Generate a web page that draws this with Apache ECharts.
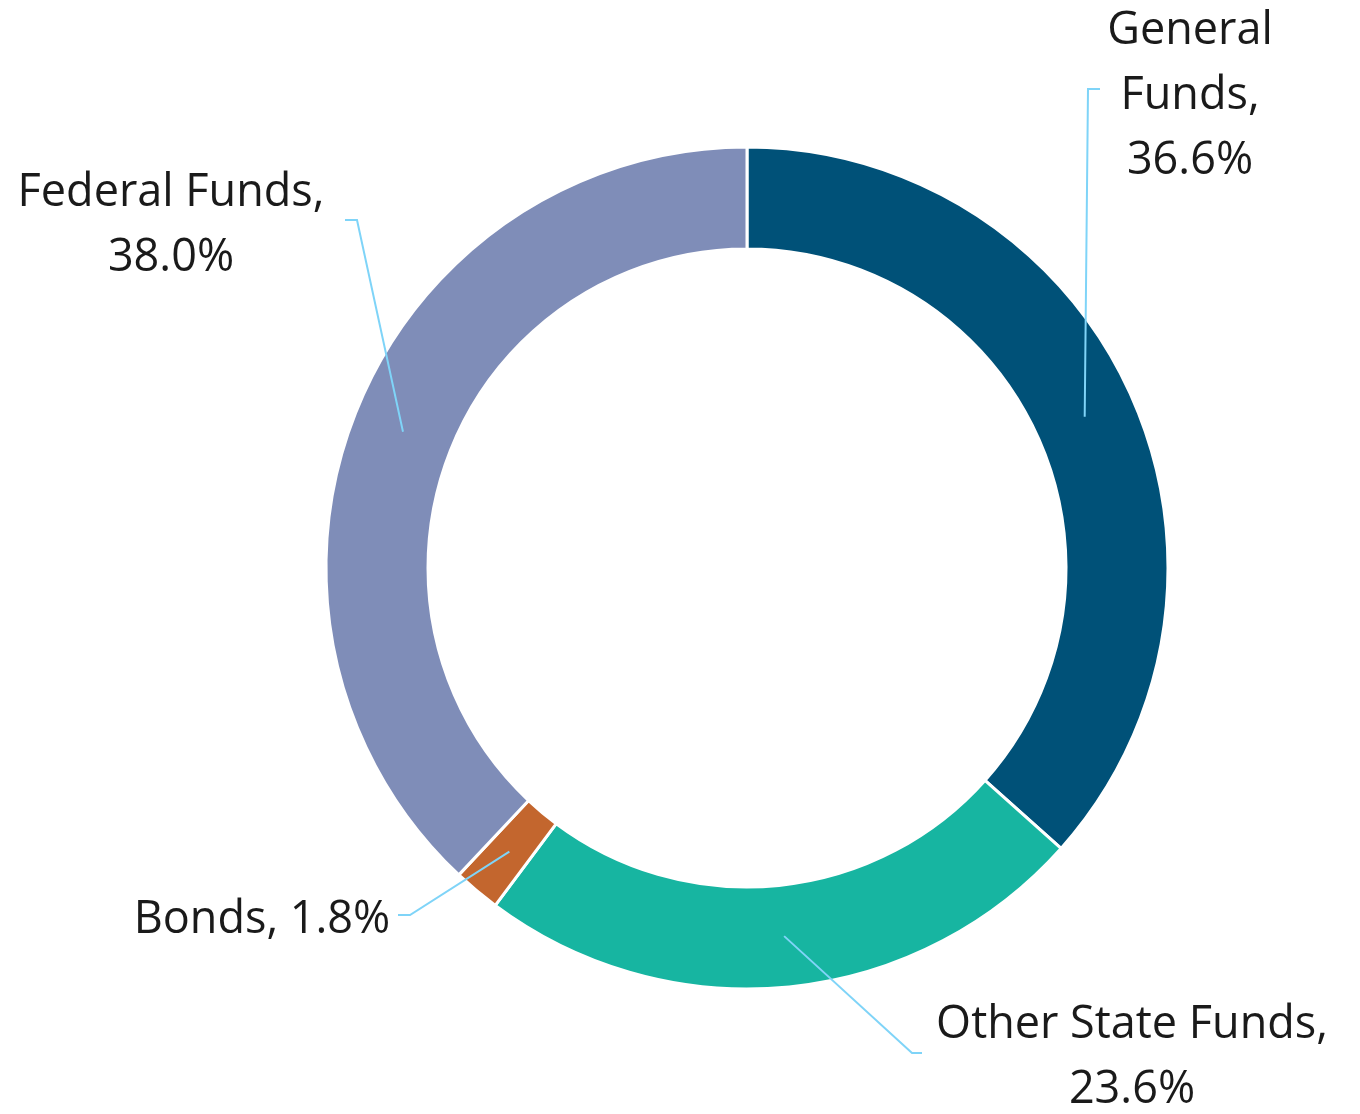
<!DOCTYPE html>
<html>
<head>
<meta charset="utf-8">
<script src="https://cdn.jsdelivr.net/npm/echarts@6/dist/echarts.min.js"></script>
<style>
  html, body { margin: 0; padding: 0; background: #fff; }
  #chart { width: 1360px; height: 1114px; }
</style>
</head>
<body>
<div id="chart"></div>
<script>
// funding sources, share of total (%)
const categories = ['General Funds', 'Other State Funds', 'Bonds', 'Federal Funds']
const shares = [36.6, 23.6, 1.8, 38.0]
const colors = ['#005178', '#17b5a1', '#c3662e', '#7f8db8']
// how each label breaks onto lines
const labelLines = [['General', 'Funds,'], ['Other State Funds,'], ['Bonds,'], ['Federal Funds,']]

// label placement (text centre + elbow of the leader line)
const cx = 747
const cy = 568
const rIn = 319
const rOut = 421
const labelSpots = [
  { x: 1190, y: 96, elbow: [1088, 89], end: [1100, 89] },
  { x: 1132, y: 1058, elbow: [912, 1053], end: [922, 1053] },
  { x: 262, y: 920, elbow: [410, 915], end: [398, 915] },
  { x: 171, y: 226, elbow: [357, 220], end: [345, 220] }
]

const chart = echarts.init(document.getElementById('chart'))

const ring = {
  type: 'pie',
  center: [cx, cy],
  radius: [rIn, rOut],
  startAngle: 90,
  clockwise: true,
  avoidLabelOverlap: false,
  silent: true
}

chart.setOption({
  backgroundColor: '#fff',
  animation: false,
  series: [
    Object.assign({}, ring, {
      z: 2,
      itemStyle: { borderColor: '#fff', borderWidth: 3 },
      label: { show: false },
      labelLine: { show: false },
      data: categories.map((name, i) => ({
        name: name,
        value: shares[i],
        itemStyle: { color: colors[i] }
      }))
    }),
    // transparent copy on top, only for labels so leader lines sit above the ring
    Object.assign({}, ring, {
      z: 5,
      itemStyle: { color: 'transparent', borderWidth: 0 },
      label: {
        show: true,
        fontFamily: 'Open Sans',
        fontSize: 45,
        lineHeight: 65,
        color: '#1a1a1a',
        align: 'center',
        formatter: p => {
          const lines = labelLines[p.dataIndex].slice()
          const pct = p.value.toFixed(1) + '%'
          if (p.dataIndex === 2) return lines[0] + ' ' + pct
          return lines.concat([pct]).join('\n')
        }
      },
      labelLine: {
        show: true,
        lineStyle: { color: '#7fd4f8', width: 2 }
      },
      labelLayout: params => {
        const spot = labelSpots[params.dataIndex]
        const p0 = params.labelLinePoints[0]
        const k = ((rIn + rOut) / 2) / rOut
        const start = [cx + (p0[0] - cx) * k, cy + (p0[1] - cy) * k]
        return {
          x: spot.x,
          y: spot.y,
          align: 'center',
          verticalAlign: 'middle',
          labelLinePoints: [start, spot.elbow, spot.end]
        }
      },
      data: categories.map((name, i) => ({ name: name, value: shares[i] }))
    })
  ]
})
</script>
</body>
</html>
